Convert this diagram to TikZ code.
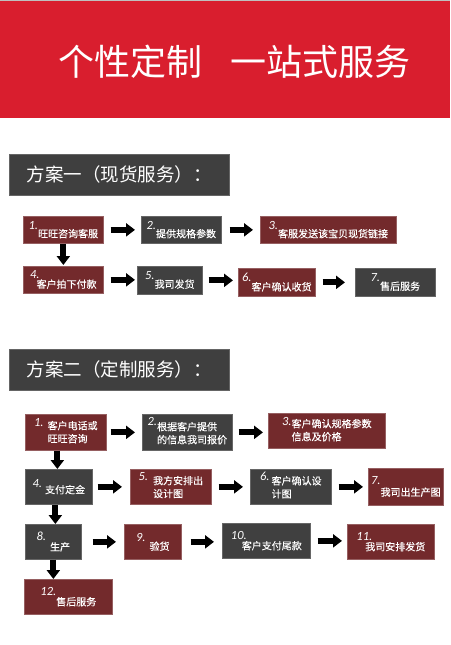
\documentclass[tikz,border=0pt]{standalone}
\usepackage{fontspec}
\setmainfont{Noto Sans CJK SC}
\newfontfamily\bxf{Noto Sans CJK SC}[FakeBold=0.3]
\newfontfamily\nf{Carlito}
\usetikzlibrary{arrows.meta}
\definecolor{band}{HTML}{D91E2E}
\definecolor{bred}{HTML}{732A2C}
\definecolor{bgray}{HTML}{404040}
\definecolor{hgray}{HTML}{3F3F3F}
\newcommand\nm[2]{\raisebox{#1}{\nf\itshape\fontsize{12.5}{13}\selectfont #2}}
\newcommand\ls[1]{\begin{tabular}[t]{@{}l@{}}#1\end{tabular}}
\tikzset{
  titletext/.style={anchor=west, inner sep=0pt, text=white, font=\fontsize{36}{40}\selectfont},
  headbox/.style={anchor=north west, inner sep=0pt, minimum width=220pt, minimum height=41pt,
    fill=hgray, draw=hgray!80!white, line width=0.7pt, text=white, font=\fontsize{18.5}{20}\selectfont},
  boxbase/.style={anchor=north west, inner sep=0pt, text=white, line width=0.7pt,
    font=\bxf\fontsize{10}{13}\selectfont},
  rb/.style={boxbase, fill=bred, draw=bred!75!white},
  gb/.style={boxbase, fill=bgray, draw=bgray!80!white},
  blk/.style={black, line width=6pt, -{Triangle[length=9pt,width=13pt]}},
}
\begin{document}
\begin{tikzpicture}[x=1pt,y=-1pt]
\useasboundingbox (0,0) rectangle (450,645);
\fill[white] (0,0) rectangle (450,645);
\fill[black!25] (0,0) rectangle (450,1);
\fill[band] (0,1) rectangle (450,118);
\node[titletext] (t1) at (58,62) {个性定制};
\node[titletext] (t2) at (230,62) {一站式服务};

% section 1
\node[headbox] (h1) at (9,154) {方案一（现货服务）：};
\node[rb, minimum width=80pt, minimum height=27pt] (b1) at (23,216) {\nm{8pt}{1.}旺旺咨询客服};
\node[gb, minimum width=80pt, minimum height=27pt] (b2) at (141,216) {\nm{8pt}{2.}提供规格参数};
\node[rb, minimum width=136pt, minimum height=27pt] (b3) at (260,216) {\nm{8pt}{3.}客服发送该宝贝现货链接};
\node[rb, minimum width=80pt, minimum height=27pt] (b4) at (23,266) {\nm{9pt}{4.}\hspace{-3pt}客户拍下付款};
\node[gb, minimum width=65pt, minimum height=28pt] (b5) at (137,266) {\nm{8pt}{5.}我司发货};
\node[rb, minimum width=77pt, minimum height=28pt] (b6) at (238,268) {\nm{9pt}{6.}客户确认收货};
\node[gb, minimum width=80pt, minimum height=28pt] (b7) at (355,268) {\nm{8pt}{7.}售后服务};

\draw[blk, shorten <=7pt, shorten >=6pt] (b1.east) -- (b1.east -| b2.west);
\draw[blk, shorten <=8pt, shorten >=7pt] (b2.east) -- (b2.east -| b3.west);
\draw[blk, shorten >=1pt] (b1.south) -- (b1.south |- b4.north);
\draw[blk, shorten <=7pt, shorten >=2pt] (b4.east) -- (b4.east -| b5.west);
\draw[blk, shorten <=6pt, shorten >=5pt] (b5.east) -- (b5.east -| b6.west);
\draw[blk, shorten <=7pt, shorten >=10pt] (b6.east) -- (b6.east -| b7.west);

% section 2
\node[headbox] (h2) at (9,349) {方案二（定制服务）：};
\node[rb, minimum width=81pt, minimum height=36pt] (a1) at (25,414) {\nm{3pt}{1.}\hspace{4pt}\ls{客户电话或\\旺旺咨询}};
\node[gb, minimum width=90pt, minimum height=36pt] (a2) at (142,414) {\nm{5pt}{2.}\ls{根据客户提供\\的信息我司报价}};
\node[rb, minimum width=117pt, minimum height=35pt] (a3) at (268,413) {\nm{2pt}{3.}\ls{客户确认规格参数\\信息及价格}};
\node[gb, minimum width=67pt, minimum height=35pt] (a4) at (25,469) {\nm{6pt}{4.}\hspace{3pt}支付定金};
\node[rb, minimum width=81pt, minimum height=35pt] (a5) at (130,469) {\nm{4pt}{5.}\hspace{5pt}\ls{我方安排出\\设计图}};
\node[gb, minimum width=81pt, minimum height=35pt] (a6) at (250,469) {\nm{4pt}{6.}\hspace{2pt}\ls{客户确认设\\计图}};
\node[rb, minimum width=75pt, minimum height=37pt] (a7) at (368,468) {\nm{11pt}{7.}我司出生产图};
\node[gb, minimum width=56pt, minimum height=35pt] (a8) at (25,524) {\nm{10pt}{8.}\hspace{4pt}生产\hspace{16pt}};
\node[rb, minimum width=57pt, minimum height=35pt] (a9) at (124,524) {\nm{9pt}{9.}\hspace{4pt}验货\hspace{8pt}};
\node[gb, minimum width=88pt, minimum height=35pt] (a10) at (222,523) {\nm{10pt}{10.}\hspace{-5pt}客户支付尾款};
\node[rb, minimum width=87pt, minimum height=35pt] (a11) at (347,524) {\nm{10pt}{11.}\hspace{-7pt}我司安排发货};
\node[rb, minimum width=88pt, minimum height=35pt] (a12) at (24,579) {\nm{10pt}{12.}售后服务\hspace{26pt}};

\draw[blk, shorten <=4pt, shorten >=7pt] (a1.east) -- (a1.east -| a2.west);
\draw[blk, shorten <=6pt, shorten >=5pt] (a2.east) -- (a2.east -| a3.west);
\draw[blk] ([xshift=-1.5pt]a4.north |- a1.south) -- ([xshift=-1.5pt]a4.north);
\draw[blk, shorten <=5pt, shorten >=8pt] (a4.east) -- (a4.east -| a5.west);
\draw[blk, shorten <=7pt, shorten >=7pt] (a5.east) -- (a5.east -| a6.west);
\draw[blk, shorten <=7pt, shorten >=5pt] (a6.east) -- (a6.east -| a7.west);
\draw[blk] ([xshift=2pt]a8.north |- a4.south) -- ([xshift=2pt]a8.north);
\draw[blk, shorten <=11pt, shorten >=8pt] (a8.east) -- (a8.east -| a9.west);
\draw[blk, shorten <=9pt, shorten >=8pt] (a9.east) -- (a9.east -| a10.west);
\draw[blk, shorten <=7pt, shorten >=5pt] (a10.east) -- (a10.east -| a11.west);
\draw[blk] (a8.south) -- (a8.south |- a12.north);
\end{tikzpicture}
\end{document}
